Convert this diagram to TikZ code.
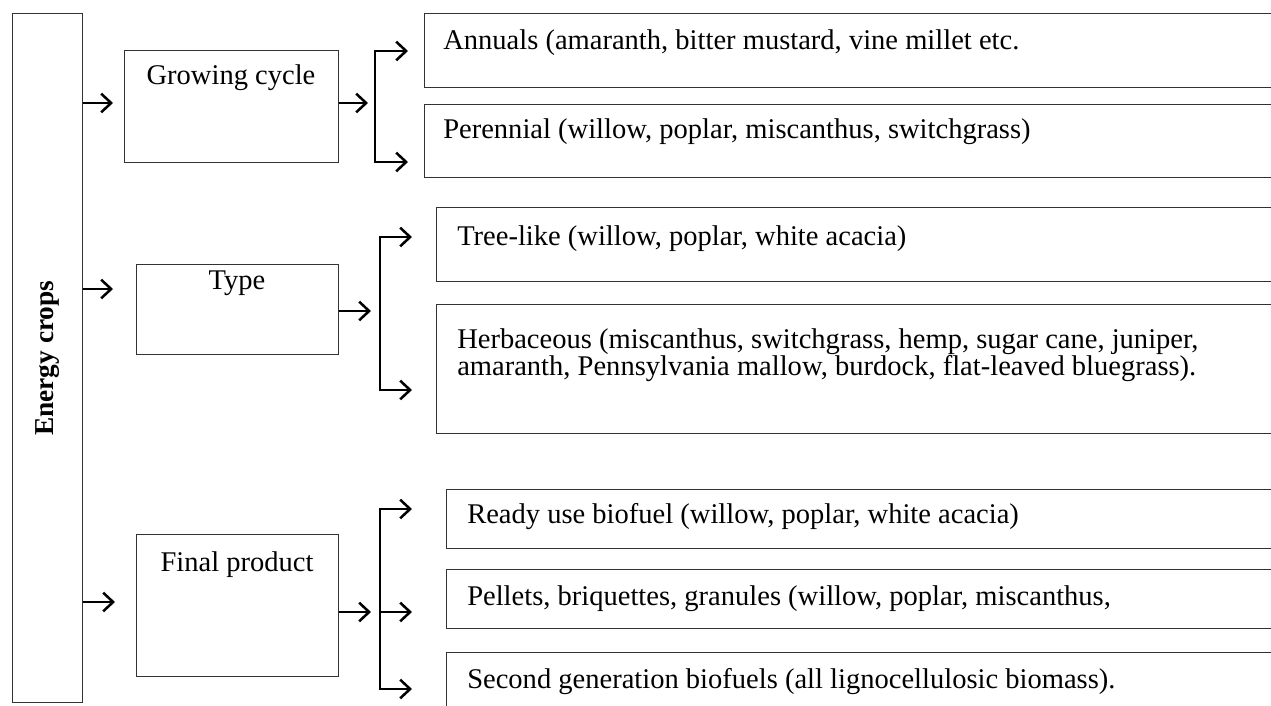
\documentclass[tikz,border=0pt]{standalone}
\usepackage{fontspec}
\setmainfont{Liberation Serif}
\usetikzlibrary{arrows.meta}
\begin{document}
\begin{tikzpicture}[x=0.75pt,y=-0.75pt,
 sz/.style 2 args={minimum width=#1*0.75pt,minimum height=#2*0.75pt},
 box/.style={draw=black!80,line width=0.95pt,inner sep=0,anchor=north west,rectangle},
 txt/.style={inner sep=0,anchor=base west,font=\fontsize{21.4}{20.25}\selectfont,align=left},
 ctxt/.style={inner sep=0,anchor=base,font=\fontsize{21.4}{20.25}\selectfont},
 arr/.style={line width=1.9pt,-{Straight Barb[length=7.5pt,width=14pt,line width=1.9pt]}},
 brk/.style={line width=1.9pt,line cap=rect}]
\useasboundingbox (0,0) rectangle (1271,706);
\clip (0,0) rectangle (1271,706);
% boxes
\node[box,sz={70}{689}] (ec) at (12,13) {};
\node[box,sz={214}{112}] (gc) at (124,50) {};
\node[box,sz={202}{90}] (ty) at (136,264) {};
\node[box,sz={202}{142}] (fp) at (136,534) {};
\node[box,sz={880}{74}] (an) at (424,13) {};
\node[box,sz={880}{73}] (pe) at (424,104) {};
\node[box,sz={870}{74}] (tr) at (436,207) {};
\node[box,sz={870}{129}] (he) at (436,304) {};
\node[box,sz={860}{59}] (rd) at (446,489) {};
\node[box,sz={860}{59}] (pl) at (446,569) {};
\node[box,sz={860}{90}] (sg) at (446,652) {};
% texts
\node[rotate=90,inner sep=0,font=\bfseries\fontsize{20.5}{24}\selectfont] (ect) at (ec.center) {Energy crops};
\node[ctxt] (gct) at (231,85) {Growing cycle};
\node[ctxt] (tyt) at (237,289) {Type};
\node[ctxt] (fpt) at (237,571) {Final product};
\node[txt] (ant) at (443,50) {Annuals (amaranth, bitter mustard, vine millet etc.};
\node[txt] (pet) at (443,139) {Perennial (willow, poplar, miscanthus, switchgrass)};
\node[txt] (trt) at (457,245) {Tree-like (willow, poplar, white acacia)};
\node[txt] (het) at (457,375) {Herbaceous (miscanthus, switchgrass, hemp, sugar cane, juniper,\\amaranth, Pennsylvania mallow, burdock, flat-leaved bluegrass).};
\node[txt] (rdt) at (467,523) {Ready use biofuel (willow, poplar, white acacia)};
\node[txt] (plt) at (467,605) {Pellets, briquettes, granules (willow, poplar, miscanthus,};
\node[txt] (sgt) at (467,688) {Second generation biofuels (all lignocellulosic biomass).};
% coordinates
\coordinate (i1) at (113,103);
\coordinate (i2) at (113,289);
\coordinate (i3) at (115,602);
\coordinate (o1) at (368,103);
\coordinate (o2) at (371,311);
\coordinate (o3) at (371,612);
\coordinate (b1t) at (375,51);
\coordinate (b1b) at (375,162);
\coordinate (b2t) at (380,237);
\coordinate (b2b) at (380,390);
\coordinate (b3t) at (380,509);
\coordinate (b3m) at (380,612);
\coordinate (b3b) at (380,689);
% connectors
\draw[arr] (ec.east |- i1) -- (i1);
\draw[arr] (ec.east |- i2) -- (i2);
\draw[arr] (ec.east |- i3) -- (i3);
\draw[arr] (gc.east |- o1) -- (o1);
\draw[arr] (ty.east |- o2) -- (o2);
\draw[arr] (fp.east |- o3) -- (o3);
\draw[brk] (b1t) -- (b1b);
\draw[brk] (b2t) -- (b2b);
\draw[brk] (b3t) -- (b3b);
\draw[arr,shorten >=12pt] (b1t) -- (an.west |- b1t);
\draw[arr,shorten >=12pt] (b1b) -- (pe.west |- b1b);
\draw[arr,shorten >=18pt] (b2t) -- (tr.west |- b2t);
\draw[arr,shorten >=18pt] (b2b) -- (he.west |- b2b);
\draw[arr,shorten >=25.5pt] (b3t) -- (rd.west |- b3t);
\draw[arr,shorten >=25.5pt] (b3m) -- (pl.west |- b3m);
\draw[arr,shorten >=25.5pt] (b3b) -- (sg.west |- b3b);
\end{tikzpicture}
\end{document}
